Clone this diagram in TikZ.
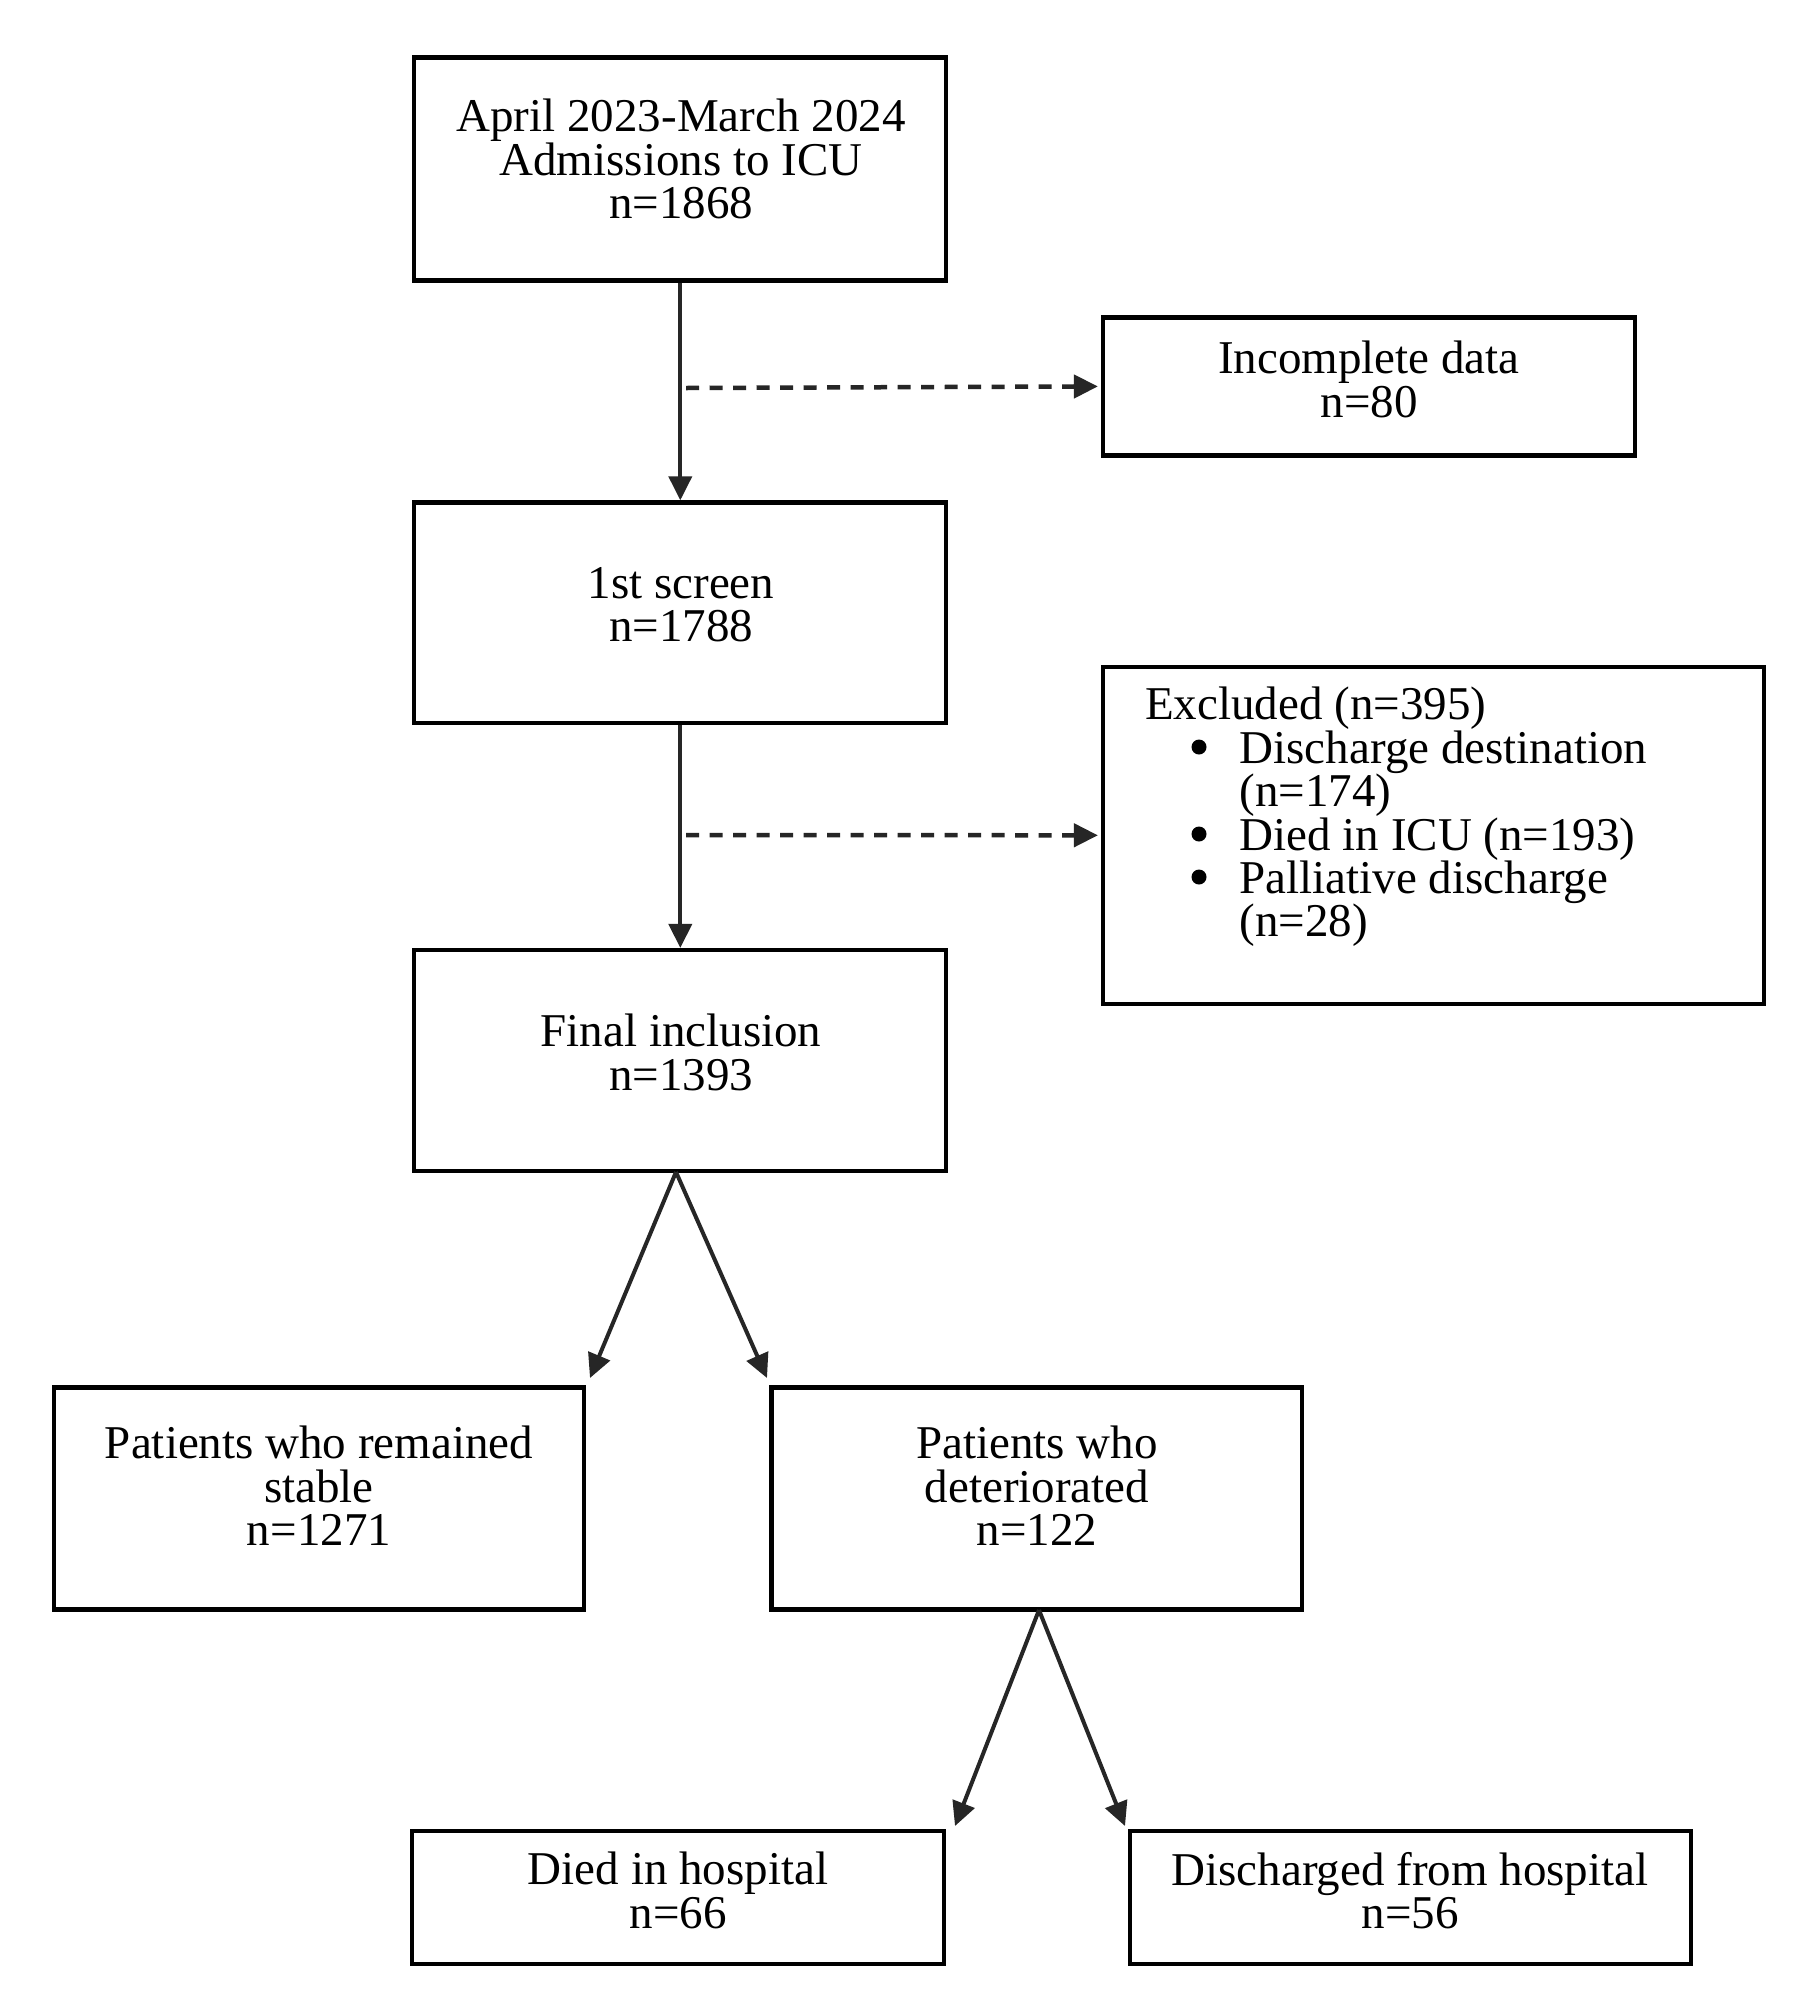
\documentclass[tikz,border=0pt]{standalone}
\usepackage{fontspec}
\setmainfont{Liberation Serif}
\usetikzlibrary{arrows.meta}
\definecolor{arrowgray}{HTML}{262626}
\begin{document}
\begin{tikzpicture}[x=1pt,y=-1pt,
 box/.style={draw=black, line width=4.2pt, rectangle, inner sep=0pt},
 txt/.style={anchor=north, align=center, inner sep=0pt, font=\fontsize{47}{43.4}\selectfont},
 arr/.style={draw=arrowgray, line width=4pt, -{Triangle[length=24pt,width=23pt]}},
 darr/.style={arr, line width=4.5pt, dash pattern=on 13pt off 10.5pt},
 bul/.style={fill=black},
]
\useasboundingbox[fill=white] (0,0) rectangle (1798,2000);

% boxes
\node[box, minimum width=532pt, minimum height=223pt] (b1) at (680.3,169) {};
\node[box, minimum width=532pt, minimum height=138pt] (inc) at (1369,386.4) {};
\node[box, minimum width=532pt, minimum height=220.6pt] (s1) at (680.3,612.7) {};
\node[box, minimum width=660.6pt, minimum height=336.6pt] (exc) at (1433.3,835.3) {};
\node[box, minimum width=532pt, minimum height=220.6pt] (fin) at (680.3,1060.3) {};
\node[box, minimum width=530.4pt, minimum height=222pt] (stab) at (318.8,1498.4) {};
\node[box, minimum width=530.5pt, minimum height=222pt] (det) at (1036.8,1498.4) {};
\node[box, minimum width=531.7pt, minimum height=132.8pt] (died) at (677.8,1897.4) {};
\node[box, minimum width=561.1pt, minimum height=132.8pt] (disc) at (1410.4,1897.4) {};

% texts
\node[txt] (tb1) at (681,99) {April 2023-March 2024\\Admissions to ICU\\n=1868};
\node[txt] (tinc) at (1369,341) {Incomplete data\\n=80};
\node[txt] (ts1) at (681,567) {1st screen\\n=1788};
\node[txt, anchor=north west, align=left] (texc) at (1145,687) {Excluded (n=395)\\
\hspace*{94.5pt}Discharge destination\\
\hspace*{94.5pt}(n=174)\\
\hspace*{94.5pt}Died in ICU (n=193)\\
\hspace*{94.5pt}Palliative discharge\\
\hspace*{94.5pt}(n=28)};
\fill[bul] (1199,747) circle (7.5pt);
\fill[bul] (1199,834) circle (7.5pt);
\fill[bul] (1199,877) circle (7.5pt);
\node[txt] (tfin) at (681,1014) {Final inclusion\\n=1393};
\node[txt] (tstab) at (319,1426) {Patients who remained\\stable\\n=1271};
\node[txt] (tdet) at (1037,1426) {Patients who\\deteriorated\\n=122};
\node[txt] (tdied) at (678,1852) {Died in hospital\\n=66};
\node[txt] (tdisc) at (1410,1852) {Discharged from hospital\\n=56};

% connectors
\coordinate (d1) at (686,388);
\coordinate (d2) at (686,835);
\coordinate (f0) at (676,1172);
\coordinate (ft1) at (590,1378);
\coordinate (ft2) at (767,1378);
\coordinate (g0) at (1039,1610);
\coordinate (gt1) at (955,1826);
\coordinate (gt2) at (1125,1826);

\draw[arr] (b1.south) -- (s1.north);
\draw[arr] (s1.south) -- (fin.north);
\draw[darr] (d1) -- ([xshift=-3pt]inc.west);
\draw[darr] (d2) -- ([xshift=-3pt]exc.west);
\draw[arr] (f0) -- (ft1);
\draw[arr] (f0) -- (ft2);
\draw[arr] (g0) -- (gt1);
\draw[arr] (g0) -- (gt2);
\end{tikzpicture}
\end{document}
